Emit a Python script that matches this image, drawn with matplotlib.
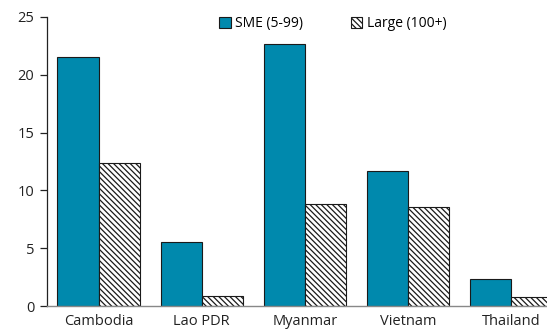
import matplotlib
matplotlib.use("Agg")
import matplotlib.pyplot as plt
import numpy as np

plt.rcParams['font.family'] = ['Open Sans', 'DejaVu Sans']
plt.rcParams['hatch.color'] = '#5a5a5a'
plt.rcParams['hatch.linewidth'] = 0.9

countries = ["Cambodia", "Lao PDR", "Myanmar", "Vietnam", "Thailand"]
sme = [21.5, 5.5, 22.7, 11.7, 2.3]
large = [12.4, 0.9, 8.8, 8.6, 0.8]
yticks = [0, 5, 10, 15, 20, 25]

fig = plt.figure(figsize=(5.47, 3.35), dpi=100)
ax = fig.add_axes([47 / 547, 29 / 335, 516 / 547, 289 / 335])

x = np.arange(len(countries))
w = 0.4
ax.bar(x - w / 2, sme, w, color='#0089AD', edgecolor='#1a1a1a', linewidth=0.8,
       label='SME (5-99)')
ax.bar(x + w / 2, large, w, color='white', edgecolor='#1a1a1a', linewidth=0.8,
       hatch='\\' * 6, label='Large (100+)')

ax.set_xlim(-0.5, len(countries) - 0.5)
ax.set_ylim(0, 25)
ax.set_yticks(yticks)
ax.set_xticks(x)
ax.set_xticklabels(countries)

for s in ['top', 'right']:
    ax.spines[s].set_visible(False)
ax.spines['left'].set_color('#222222')
ax.spines['left'].set_linewidth(0.9)
ax.spines['bottom'].set_color('#888888')
ax.spines['bottom'].set_linewidth(1.0)
ax.tick_params(axis='y', direction='out', length=5, width=0.9, labelsize=10.5,
               colors='#222222', pad=4)
ax.tick_params(axis='x', length=0, labelsize=10.5, colors='#222222', pad=6)

leg = ax.legend(loc='upper center', bbox_to_anchor=(0.554, 1.045),
                ncol=2, frameon=False, fontsize=10, handlelength=0.85,
                handleheight=0.85, handletextpad=0.3, columnspacing=3.4)

fig.savefig("out.png", dpi=100)
